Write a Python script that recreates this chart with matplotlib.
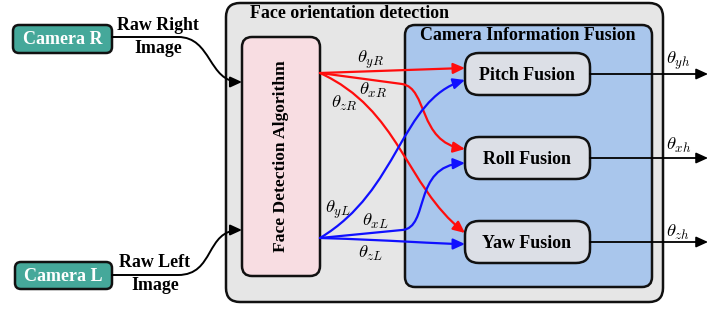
import matplotlib
matplotlib.use("Agg")
import matplotlib.pyplot as plt
from matplotlib.patches import FancyBboxPatch, FancyArrowPatch
from matplotlib.path import Path

plt.rcParams['mathtext.fontset'] = 'cm'
SERIF = 'Liberation Serif'

# labels
camera_labels = ['Camera R', 'Camera L']
input_labels = ['Raw Right\nImage', 'Raw Left\nImage']
outer_title = 'Face orientation detection'
detector_label = 'Face Detection Algorithm'
fusion_title = 'Camera Information Fusion'
fusion_labels = ['Pitch Fusion', 'Roll Fusion', 'Yaw Fusion']
right_angles = [r'$\theta_{yR}$', r'$\theta_{xR}$', r'$\theta_{zR}$']
left_angles = [r'$\theta_{yL}$', r'$\theta_{xL}$', r'$\theta_{zL}$']
out_angles = [r'$\theta_{yh}$', r'$\theta_{xh}$', r'$\theta_{zh}$']

# colours
teal = '#45a89a'
gray_bg = '#e6e6e6'
pink = '#f8dde2'
blue_bg = '#a9c6ec'
fus_bg = '#dcdfe6'
red = '#ff0d0d'
blue = '#1010ff'

TXT = 12.9   # bold label size
MTH = 13.5   # math label size

fig = plt.figure(figsize=(7.09, 3.09), dpi=100)
ax = fig.add_axes([0, 0, 1, 1])
ax.set_xlim(0, 709)
ax.set_ylim(309, 0)
ax.axis('off')


def rbox(x0, y0, x1, y1, fc, r, lw=1.8, z=1):
    p = FancyBboxPatch((x0, y0), x1 - x0, y1 - y0,
                       boxstyle=f"round,pad=0,rounding_size={r}",
                       fc=fc, ec='#111111', lw=lw, zorder=z)
    ax.add_patch(p)


def arrow(verts, codes, color, lw=1.6, z=5):
    path = Path(verts, codes)
    a = FancyArrowPatch(path=path, arrowstyle='-|>,head_length=7,head_width=3.2',
                        color=color, lw=lw, zorder=z, shrinkA=0, shrinkB=0)
    ax.add_patch(a)


M, L, C = Path.MOVETO, Path.LINETO, Path.CURVE4

# big boxes
rbox(226, 3, 663, 302, gray_bg, 14, z=1)
ax.text(250, 14, outer_title, family=SERIF, weight='bold', fontsize=TXT,
        ha='left', va='center', zorder=3)
rbox(242, 37, 320, 276, pink, 10, z=2)
ax.text(281, 156, detector_label, family=SERIF, weight='bold', fontsize=12.6,
        rotation=90, ha='center', va='center', zorder=3)
rbox(405, 25, 652, 287, blue_bg, 10, z=2)
ax.text(528, 36, fusion_title, family=SERIF, weight='bold', fontsize=TXT,
        ha='center', va='center', zorder=3)

# fusion boxes
fus_y = [(53, 95), (137, 179), (221, 263)]
for lab, (y0, y1) in zip(fusion_labels, fus_y):
    rbox(465, y0, 590, y1, fus_bg, 14, z=6)
    ax.text(527, (y0 + y1) / 2 + 1, lab, family=SERIF, weight='bold', fontsize=TXT,
            ha='center', va='center', zorder=7)

# outputs
out_lab_y = [61, 145, 232]
for lab, (y0, y1), ly in zip(out_angles, fus_y, out_lab_y):
    yc = (y0 + y1) / 2
    arrow([(590, yc), (708, yc)], [M, L], 'black', lw=1.3, z=8)
    ax.text(666, ly, lab, fontsize=MTH, ha='left', va='center', zorder=8)

# cameras
cam_box = [(13, 25, 112, 53), (15, 262, 112, 289)]
for lab, (x0, y0, x1, y1) in zip(camera_labels, cam_box):
    rbox(x0, y0, x1, y1, teal, 6, z=3)
    ax.text((x0 + x1) / 2, (y0 + y1) / 2 + 1, lab, family=SERIF, weight='bold',
            fontsize=13, color='white', ha='center', va='center', zorder=4)
ax.text(158, 37, input_labels[0], family=SERIF, weight='bold', fontsize=TXT,
        ha='center', va='center', linespacing=1.45, zorder=4)
ax.text(155, 274, input_labels[1], family=SERIF, weight='bold', fontsize=TXT,
        ha='center', va='center', linespacing=1.45, zorder=4)

arrow([(112, 37), (178, 37), (212, 37), (208, 82), (242, 82)], [M, L, C, C, C], 'black', lw=1.4)
arrow([(112, 275), (178, 275), (215, 275), (205, 230), (242, 230)], [M, L, C, C, C], 'black', lw=1.4)

# red paths from right image
rs = (320, 73)
arrow([rs, (465, 68)], [M, L], red)
arrow([rs, (402, 84), (428, 88), (418, 142), (465, 149)], [M, L, C, C, C], red)
arrow([rs, (400, 110), (405, 185), (465, 233)], [M, C, C, C], red)

# blue paths from left image
ls = (320, 238)
arrow([ls, (400, 190), (400, 100), (465, 80)], [M, C, C, C], blue)
arrow([ls, (402, 230), (430, 228), (412, 166), (465, 163)], [M, L, C, C, C], blue)
arrow([ls, (390, 240), (440, 244), (465, 244)], [M, C, C, C], blue)

# angle labels
for lab, (x, y) in zip(right_angles, [(371, 60), (373, 90), (344, 103)]):
    ax.text(x, y, lab, fontsize=MTH, ha='center', va='center', zorder=9)
for lab, (x, y) in zip(left_angles, [(338, 210), (375, 221), (371, 253)]):
    ax.text(x, y, lab, fontsize=MTH, ha='center', va='center', zorder=9)

fig.savefig('out.png', dpi=100, facecolor='white')
